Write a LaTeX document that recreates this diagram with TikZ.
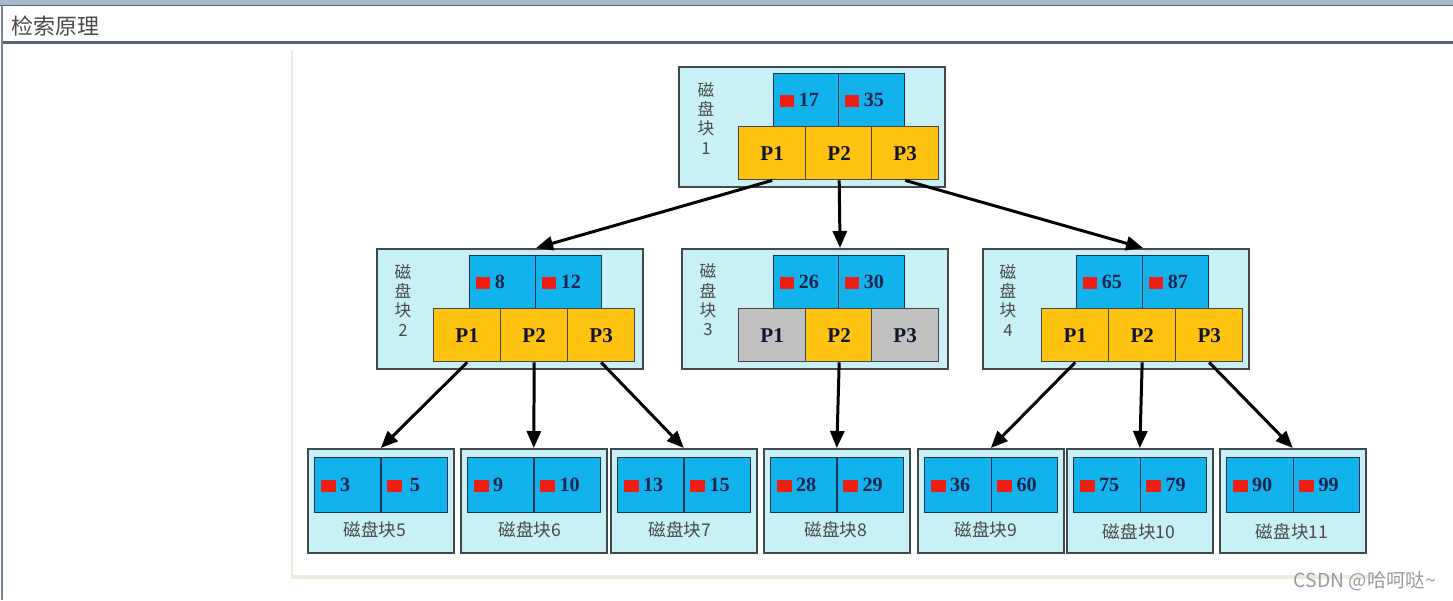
\documentclass[tikz,border=0pt]{standalone}
\usepackage{fontspec}
\setmainfont{Liberation Serif}
\newfontfamily\cjk{Noto Sans CJK SC}
\usepackage{tikz}
\usetikzlibrary{arrows.meta,calc}
\definecolor{TopBar}{HTML}{A9B9D0}
\definecolor{Frame}{HTML}{56677A}
\definecolor{Beige}{HTML}{ECEBDD}
\definecolor{BoxCyan}{HTML}{C8F0F6}
\definecolor{BoxLine}{HTML}{3E4A4E}
\definecolor{KeyBlue}{HTML}{12B2EC}
\definecolor{KeyLine}{HTML}{1E3550}
\definecolor{PYellow}{HTML}{FFC20E}
\definecolor{PGray}{HTML}{C0C0C0}
\definecolor{Navy}{HTML}{1C2550}
\definecolor{RedSq}{HTML}{F01E12}
\definecolor{LabelGray}{HTML}{4A4A4A}
\definecolor{Mark}{HTML}{9A9A9A}
\newcommand\redsq{{\color{RedSq}\rule[-0.5pt]{8.5pt}{7pt}}\hspace{2.5pt}}
\tikzset{
  blk/.style={draw=BoxLine,fill=BoxCyan,line width=0.9pt,anchor=north west,
    minimum width=5.32cm,minimum height=2.4cm,inner sep=0pt},
  leaf/.style={blk,minimum width=2.92cm,minimum height=2.08cm},
  keycell/.style={draw=KeyLine,fill=KeyBlue,line width=0.6pt,anchor=north west,
    minimum width=1.32cm,minimum height=1.06cm,text width=1.08cm,inner xsep=0.12cm,
    align=left,text=Navy,font=\bfseries\fontsize{11.5}{12}\selectfont},
  leafkey/.style={keycell,minimum width=1.33cm,minimum height=1.1cm},
  pcell/.style={draw=BoxLine,fill=PYellow,line width=0.8pt,anchor=north west,
    minimum width=1.34cm,minimum height=1.06cm,inner sep=0pt,
    text=Navy!60!black,font=\bfseries\fontsize{12}{12}\selectfont},
  pgray/.style={pcell,fill=PGray},
  blklabel/.style={text=LabelGray,align=center,font=\cjk\fontsize{9.5}{11}\selectfont},
  leaflabel/.style={blklabel,font=\cjk\fontsize{10}{12}\selectfont},
  ptr/.style={-{Triangle[length=3.4mm,width=2.8mm]},line width=1.7pt,color=black}
}
\begin{document}
\begin{tikzpicture}[x=0.02cm,y=-0.02cm]
  \useasboundingbox (0,0) rectangle (1453,600);
  % page frame
  \fill[TopBar] (0,0) rectangle (1453,6);
  \draw[Frame,line width=0.7pt] (0,5.5) -- (1453,5.5);
  \draw[Frame,line width=1.2pt] (2,42.5) -- (1453,42.5);
  \draw[Frame!80,line width=0.7pt] (2,6) -- (2,600);
  \node[anchor=west,text=LabelGray,font=\cjk\fontsize{12.5}{14}\selectfont] (title) at (5,26) {检索原理};
  \draw[Beige,line width=1.2pt] (292,50) -- (292,578);
  \draw[Beige,line width=1.8pt] (292,577) -- (1378,577);

  % disk block 1
  \node[blk] (blk1) at (678,66) {};
  \node[blklabel] (lab1) at (706,118) {磁\\盘\\块\\1};
  \node[keycell] (b1k1) at (773,73) {\redsq17};
  \node[keycell] (b1k2) at (838,73) {\redsq35};
  \node[pcell] (b1p1) at (738,126) {P1};
  \node[pcell] (b1p2) at (805,126) {P2};
  \node[pcell] (b1p3) at (871,126) {P3};

  % disk block 2
  \node[blk] (blk2) at (376,248) {};
  \node[blklabel] (lab2) at (403,300) {磁\\盘\\块\\2};
  \node[keycell] (b2k1) at (469,255) {\redsq8};
  \node[keycell] (b2k2) at (535,255) {\redsq12};
  \node[pcell] (b2p1) at (433,308) {P1};
  \node[pcell] (b2p2) at (500,308) {P2};
  \node[pcell] (b2p3) at (567,308) {P3};

  % disk block 3
  \node[blk] (blk3) at (681,248) {};
  \node[blklabel] (lab3) at (708,300) {磁\\盘\\块\\3};
  \node[keycell] (b3k1) at (773,255) {\redsq26};
  \node[keycell] (b3k2) at (838,255) {\redsq30};
  \node[pgray] (b3p1) at (738,308) {P1};
  \node[pcell] (b3p2) at (805,308) {P2};
  \node[pgray] (b3p3) at (871,308) {P3};

  % disk block 4
  \node[blk] (blk4) at (982,248) {};
  \node[blklabel] (lab4) at (1008,300) {磁\\盘\\块\\4};
  \node[keycell] (b4k1) at (1076,255) {\redsq65};
  \node[keycell] (b4k2) at (1142,255) {\redsq87};
  \node[pcell] (b4p1) at (1041,308) {P1};
  \node[pcell] (b4p2) at (1108,308) {P2};
  \node[pcell] (b4p3) at (1175,308) {P3};

  % leaf blocks 5-11
  \node[leaf] (leaf5) at (307,448) {};
  \node[leafkey] (l5k1) at (314,457) {\redsq3};
  \node[leafkey] (l5k2) at (380.5,457) {\redsq\,5};
  \node[leaflabel] (lab5) at (375,530) {磁盘块5};

  \node[leaf] (leaf6) at (460,448) {};
  \node[leafkey] (l6k1) at (467,457) {\redsq9};
  \node[leafkey] (l6k2) at (533.5,457) {\redsq10};
  \node[leaflabel] (lab6) at (530,530) {磁盘块6};

  \node[leaf] (leaf7) at (610,448) {};
  \node[leafkey] (l7k1) at (617,457) {\redsq13};
  \node[leafkey] (l7k2) at (683.5,457) {\redsq15};
  \node[leaflabel] (lab7) at (680,530) {磁盘块7};

  \node[leaf] (leaf8) at (763,448) {};
  \node[leafkey] (l8k1) at (770,457) {\redsq28};
  \node[leafkey] (l8k2) at (836.5,457) {\redsq29};
  \node[leaflabel] (lab8) at (836,530) {磁盘块8};

  \node[leaf] (leaf9) at (917,448) {};
  \node[leafkey] (l9k1) at (924,457) {\redsq36};
  \node[leafkey] (l9k2) at (990.5,457) {\redsq60};
  \node[leaflabel] (lab9) at (986,530) {磁盘块9};

  \node[leaf] (leaf10) at (1066,448) {};
  \node[leafkey] (l10k1) at (1073,457) {\redsq75};
  \node[leafkey] (l10k2) at (1139.5,457) {\redsq79};
  \node[leaflabel] (lab10) at (1139,532) {磁盘块10};

  \node[leaf] (leaf11) at (1219,448) {};
  \node[leafkey] (l11k1) at (1226,457) {\redsq90};
  \node[leafkey] (l11k2) at (1292.5,457) {\redsq99};
  \node[leaflabel] (lab11) at (1292,532) {磁盘块11};

  % pointers
  \draw[ptr] (b1p1.south) -- (b2k1.north east |- blk2.north);
  \draw[ptr] (b1p2.south) -- (b3k1.north east |- blk3.north);
  \draw[ptr] (b1p3.south) -- (b4k1.north east |- blk4.north);
  \draw[ptr] (b2p1.south) -- (leaf5.north);
  \draw[ptr] (b2p2.south) -- (leaf6.north);
  \draw[ptr] (b2p3.south) -- (leaf7.north);
  \draw[ptr] (b3p2.south) -- (leaf8.north);
  \draw[ptr] (b4p1.south) -- (leaf9.north);
  \draw[ptr] (b4p2.south) -- (leaf10.north);
  \draw[ptr] (b4p3.south) -- (leaf11.north);

  \node[anchor=east,text=Mark,font=\cjk\fontsize{11}{12}\selectfont] (mark) at (1442,581) {CSDN @哈呵哒\textasciitilde};
\end{tikzpicture}
\end{document}
